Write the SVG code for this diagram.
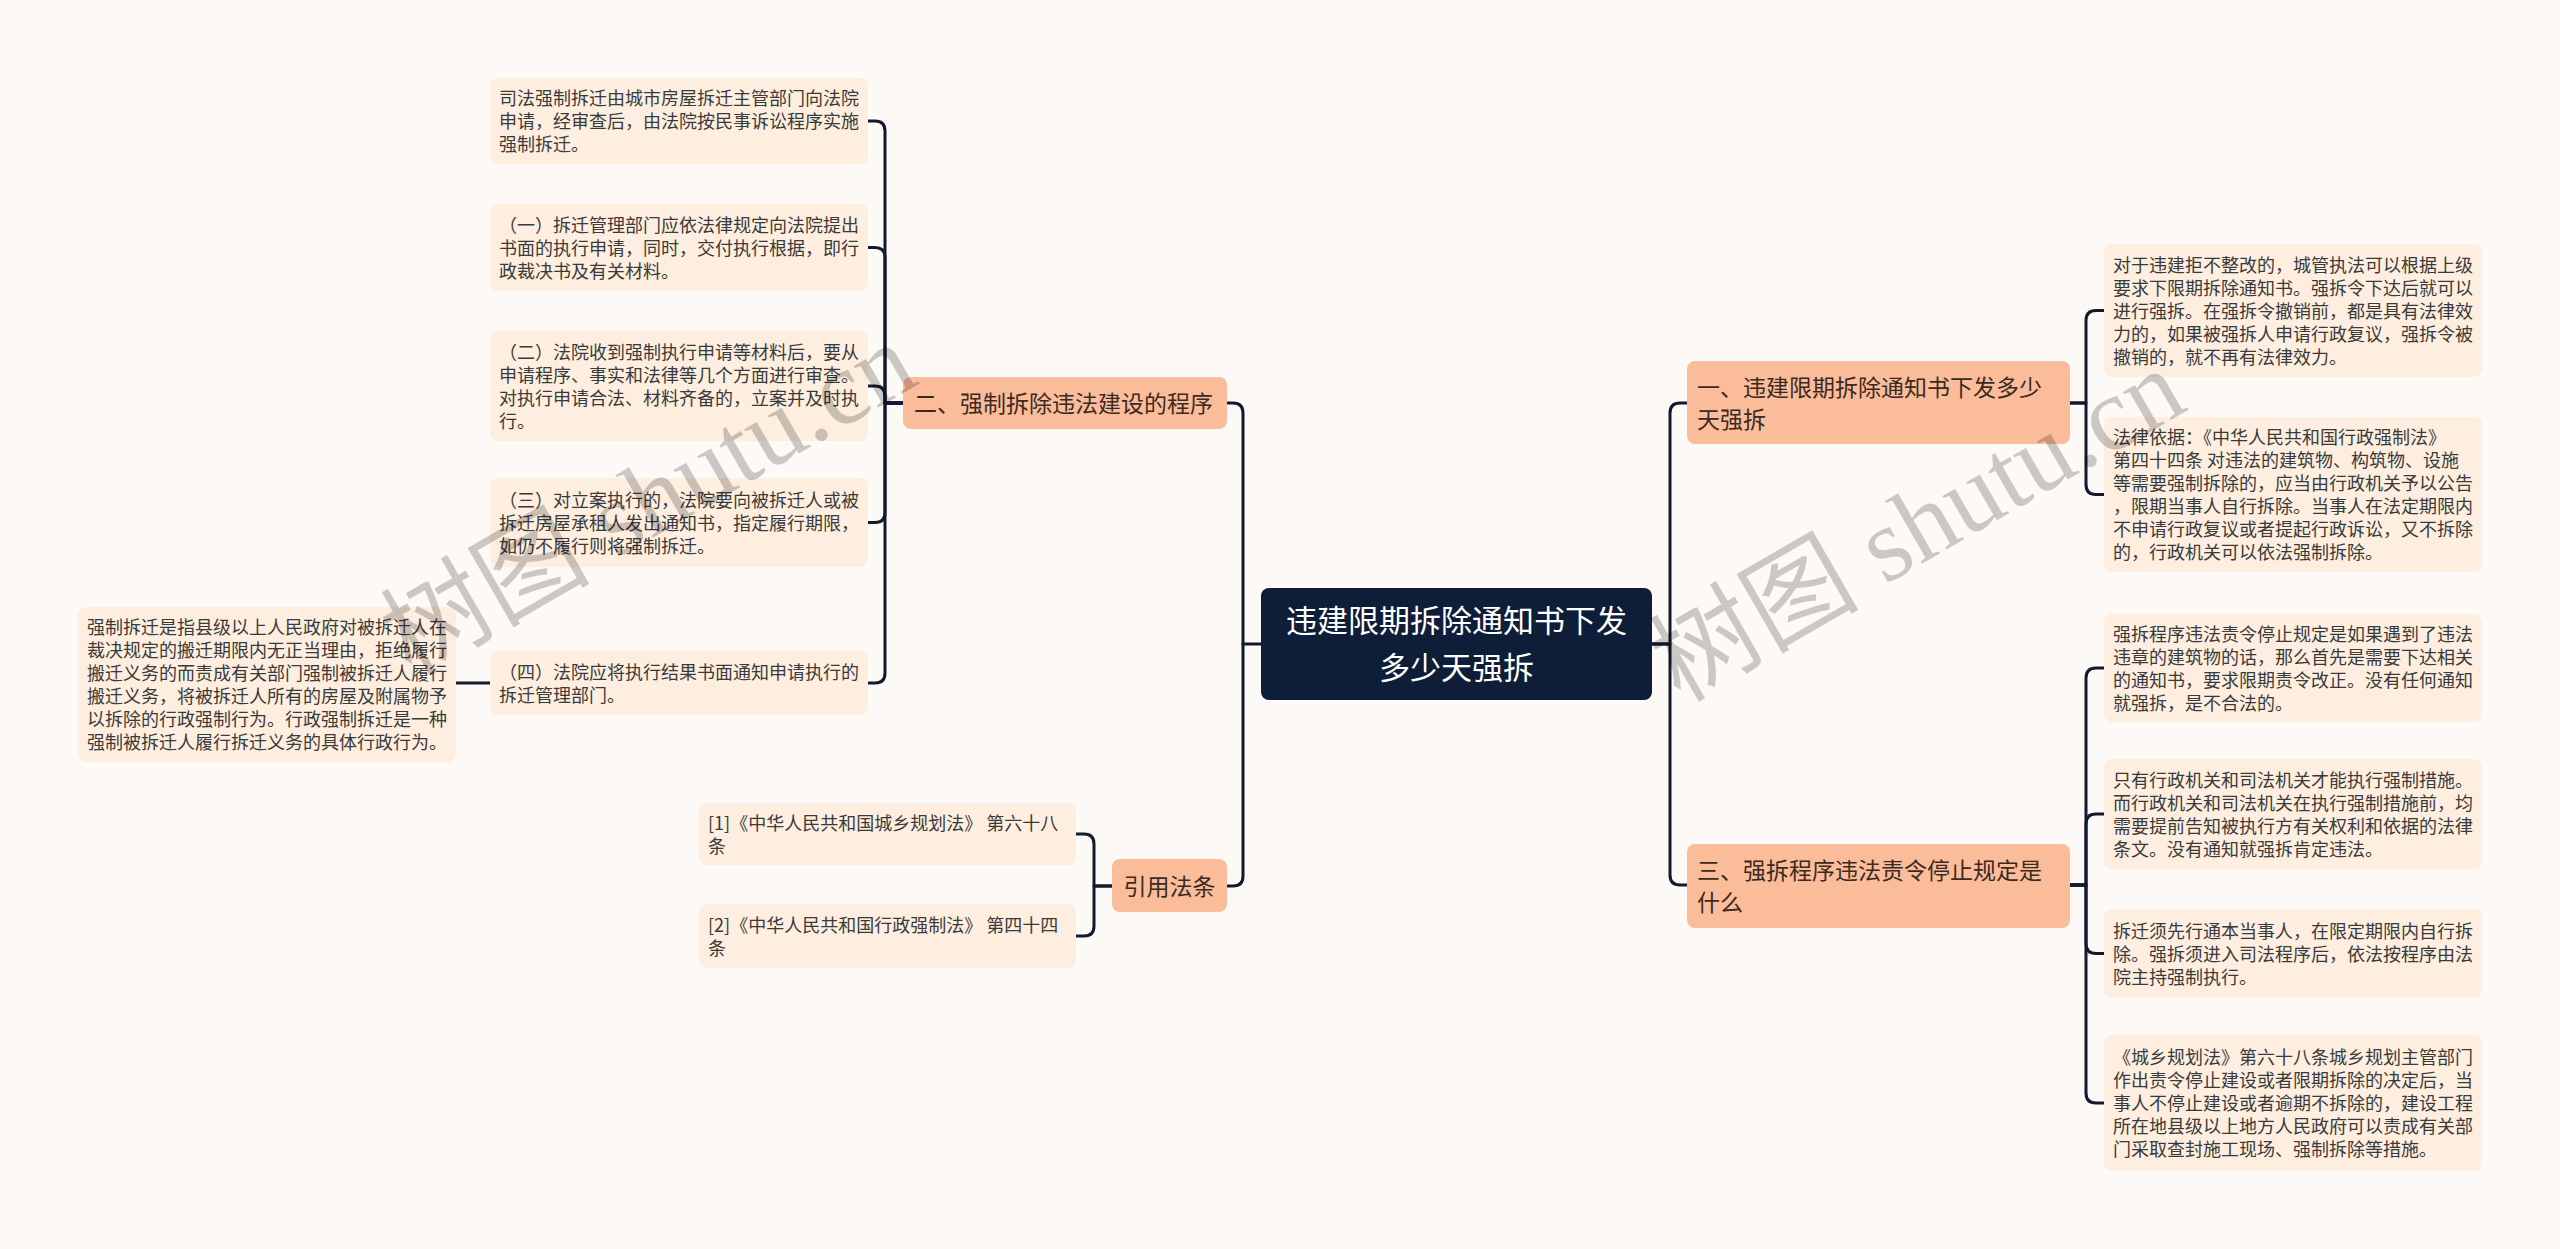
<svg xmlns="http://www.w3.org/2000/svg" width="2560" height="1249" viewBox="0 0 2560 1249">
<style>
.bg{fill:#FDF9F7}
.leaf{fill:#FDEEDF}
.br{fill:#FBBC9A}
.root{fill:#0E1E38}
.lt{font-family:"Noto Sans CJK SC","Noto Sans",sans-serif;font-size:18px;fill:#3a3a3a}
.bt{font-family:"Noto Sans CJK SC","Noto Sans",sans-serif;font-size:23px;fill:#3b2a22}
.rt{font-family:"Noto Sans CJK SC","Noto Sans",sans-serif;font-size:31px;fill:#ffffff}
.c{fill:none;stroke:#111A2E;stroke-width:3;stroke-linecap:round;stroke-linejoin:round}
.wm{font-family:"Liberation Serif","Noto Sans CJK SC",serif;font-size:105px;fill:#000;fill-opacity:0.2}
</style>
<rect class="bg" x="0" y="0" width="2560" height="1249"/>

<g id="connectors">
<path class="c" d="M1261,644 H1243"/>
<path class="c" d="M1243,644 V413 Q1243,403 1233,403 H1227"/>
<path class="c" d="M1243,644 V876 Q1243,886 1233,886 H1227"/>
<path class="c" d="M1652,644 H1670 V413 Q1670,403 1680,403 H1687"/>
<path class="c" d="M1652,644 H1670 V875 Q1670,885 1680,885 H1687"/>
<path class="c" d="M903,403 H885 V131 Q885,121 875,121 H868"/>
<path class="c" d="M903,403 H885 V257.5 Q885,247.5 875,247.5 H868"/>
<path class="c" d="M903,403 H885 V396 Q885,386 875,386 H868"/>
<path class="c" d="M903,403 H885 V512.5 Q885,522.5 875,522.5 H868"/>
<path class="c" d="M903,403 H885 V673 Q885,683 875,683 H868"/>
<path class="c" d="M490,683 H456"/>
<path class="c" d="M1112,886 H1094 V844 Q1094,834 1084,834 H1076"/>
<path class="c" d="M1112,886 H1094 V926 Q1094,936 1084,936 H1076"/>
<path class="c" d="M2070,403 H2086 V320.5 Q2086,310.5 2096,310.5 H2104"/>
<path class="c" d="M2070,403 H2086 V484.5 Q2086,494.5 2096,494.5 H2104"/>
<path class="c" d="M2070,885 H2086 V678 Q2086,668 2096,668 H2104"/>
<path class="c" d="M2070,885 H2086 V824 Q2086,814 2096,814 H2104"/>
<path class="c" d="M2070,885 H2086 V943.5 Q2086,953.5 2096,953.5 H2104"/>
<path class="c" d="M2070,885 H2086 V1093 Q2086,1103 2096,1103 H2104"/>
</g>

<g id="root">
<rect class="root" x="1261" y="588" width="391" height="112" rx="8"/>
<text class="rt" x="1456.5" y="632" text-anchor="middle">违建限期拆除通知书下发</text>
<text class="rt" x="1456.5" y="679" text-anchor="middle">多少天强拆</text>
</g>

<g id="branch1">
<rect class="br" x="1687" y="361" width="383" height="83" rx="8"/>
<text class="bt" x="1697" y="395.5">一、违建限期拆除通知书下发多少</text>
<text class="bt" x="1697" y="427.5">天强拆</text>
</g>

<g id="branch3">
<rect class="br" x="1687" y="844" width="383" height="84" rx="8"/>
<text class="bt" x="1697" y="879">三、强拆程序违法责令停止规定是</text>
<text class="bt" x="1697" y="911">什么</text>
</g>

<g id="branch2">
<rect class="br" x="903" y="377" width="324" height="52" rx="8"/>
<text class="bt" x="914" y="411.5">二、强制拆除违法建设的程序</text>
</g>

<g id="branchRef">
<rect class="br" x="1112" y="859" width="115" height="53" rx="8"/>
<text class="bt" x="1169.5" y="894.5" text-anchor="middle">引用法条</text>
</g>

<g id="leafA">
<rect class="leaf" x="490" y="78" width="378" height="86" rx="8"/>
<text class="lt" x="499" y="105">司法强制拆迁由城市房屋拆迁主管部门向法院</text>
<text class="lt" x="499" y="128">申请，经审查后，由法院按民事诉讼程序实施</text>
<text class="lt" x="499" y="151">强制拆迁。</text>
</g>

<g id="leafB">
<rect class="leaf" x="490" y="204" width="378" height="87" rx="8"/>
<text class="lt" x="499" y="231.5">（一）拆迁管理部门应依法律规定向法院提出</text>
<text class="lt" x="499" y="254.5">书面的执行申请，同时，交付执行根据，即行</text>
<text class="lt" x="499" y="277.5">政裁决书及有关材料。</text>
</g>

<g id="leafC">
<rect class="leaf" x="490" y="331" width="378" height="110" rx="8"/>
<text class="lt" x="499" y="358.5">（二）法院收到强制执行申请等材料后，要从</text>
<text class="lt" x="499" y="381.5">申请程序、事实和法律等几个方面进行审查。</text>
<text class="lt" x="499" y="404.5">对执行申请合法、材料齐备的，立案并及时执</text>
<text class="lt" x="499" y="427.5">行。</text>
</g>

<g id="leafD">
<rect class="leaf" x="490" y="478" width="378" height="89" rx="8"/>
<text class="lt" x="499" y="506.5">（三）对立案执行的，法院要向被拆迁人或被</text>
<text class="lt" x="499" y="529.5">拆迁房屋承租人发出通知书，指定履行期限，</text>
<text class="lt" x="499" y="552.5">如仍不履行则将强制拆迁。</text>
</g>

<g id="leafE">
<rect class="leaf" x="490" y="651" width="378" height="64" rx="8"/>
<text class="lt" x="499" y="678.5">（四）法院应将执行结果书面通知申请执行的</text>
<text class="lt" x="499" y="701.5">拆迁管理部门。</text>
</g>

<g id="leafFar">
<rect class="leaf" x="78" y="607" width="378" height="155" rx="8"/>
<text class="lt" x="87" y="634">强制拆迁是指县级以上人民政府对被拆迁人在</text>
<text class="lt" x="87" y="657">裁决规定的搬迁期限内无正当理由，拒绝履行</text>
<text class="lt" x="87" y="680">搬迁义务的而责成有关部门强制被拆迁人履行</text>
<text class="lt" x="87" y="703">搬迁义务，将被拆迁人所有的房屋及附属物予</text>
<text class="lt" x="87" y="726">以拆除的行政强制行为。行政强制拆迁是一种</text>
<text class="lt" x="87" y="749">强制被拆迁人履行拆迁义务的具体行政行为。</text>
</g>

<g id="ref1">
<rect class="leaf" x="699" y="803" width="377" height="62" rx="8"/>
<text class="lt" x="708" y="829.5">[1]《中华人民共和国城乡规划法》 第六十八</text>
<text class="lt" x="708" y="852.5">条</text>
</g>

<g id="ref2">
<rect class="leaf" x="699" y="904" width="377" height="64" rx="8"/>
<text class="lt" x="708" y="931.5">[2]《中华人民共和国行政强制法》 第四十四</text>
<text class="lt" x="708" y="954.5">条</text>
</g>

<g id="leafR1">
<rect class="leaf" x="2104" y="244" width="378" height="133" rx="8"/>
<text class="lt" x="2113" y="271.5">对于违建拒不整改的，城管执法可以根据上级</text>
<text class="lt" x="2113" y="294.5">要求下限期拆除通知书。强拆令下达后就可以</text>
<text class="lt" x="2113" y="317.5">进行强拆。在强拆令撤销前，都是具有法律效</text>
<text class="lt" x="2113" y="340.5">力的，如果被强拆人申请行政复议，强拆令被</text>
<text class="lt" x="2113" y="363.5">撤销的，就不再有法律效力。</text>
</g>

<g id="leafR2">
<rect class="leaf" x="2104" y="417" width="378" height="155" rx="8"/>
<text class="lt" x="2113" y="444">法律依据：《中华人民共和国行政强制法》</text>
<text class="lt" x="2113" y="467">第四十四条 对违法的建筑物、构筑物、设施</text>
<text class="lt" x="2113" y="490">等需要强制拆除的，应当由行政机关予以公告</text>
<text class="lt" x="2113" y="513">，限期当事人自行拆除。当事人在法定期限内</text>
<text class="lt" x="2113" y="536">不申请行政复议或者提起行政诉讼，又不拆除</text>
<text class="lt" x="2113" y="559">的，行政机关可以依法强制拆除。</text>
</g>

<g id="leafL1">
<rect class="leaf" x="2104" y="614" width="378" height="108" rx="8"/>
<text class="lt" x="2113" y="640.5">强拆程序违法责令停止规定是如果遇到了违法</text>
<text class="lt" x="2113" y="663.5">违章的建筑物的话，那么首先是需要下达相关</text>
<text class="lt" x="2113" y="686.5">的通知书，要求限期责令改正。没有任何通知</text>
<text class="lt" x="2113" y="709.5">就强拆，是不合法的。</text>
</g>

<g id="leafL2">
<rect class="leaf" x="2104" y="759" width="378" height="110" rx="8"/>
<text class="lt" x="2113" y="786.5">只有行政机关和司法机关才能执行强制措施。</text>
<text class="lt" x="2113" y="809.5">而行政机关和司法机关在执行强制措施前，均</text>
<text class="lt" x="2113" y="832.5">需要提前告知被执行方有关权利和依据的法律</text>
<text class="lt" x="2113" y="855.5">条文。没有通知就强拆肯定违法。</text>
</g>

<g id="leafL3">
<rect class="leaf" x="2104" y="909" width="378" height="89" rx="8"/>
<text class="lt" x="2113" y="937.5">拆迁须先行通本当事人，在限定期限内自行拆</text>
<text class="lt" x="2113" y="960.5">除。强拆须进入司法程序后，依法按程序由法</text>
<text class="lt" x="2113" y="983.5">院主持强制执行。</text>
</g>

<g id="leafL4">
<rect class="leaf" x="2104" y="1035" width="378" height="136" rx="8"/>
<text class="lt" x="2113" y="1064">《城乡规划法》第六十八条城乡规划主管部门</text>
<text class="lt" x="2113" y="1087">作出责令停止建设或者限期拆除的决定后，当</text>
<text class="lt" x="2113" y="1110">事人不停止建设或者逾期不拆除的，建设工程</text>
<text class="lt" x="2113" y="1133">所在地县级以上地方人民政府可以责成有关部</text>
<text class="lt" x="2113" y="1156">门采取查封施工现场、强制拆除等措施。</text>
</g>

<g id="watermarks">
<text class="wm" text-anchor="middle" transform="translate(666,530) rotate(-30)">树图 shutu.cn</text>
<text class="wm" text-anchor="middle" transform="translate(1935,556) rotate(-30)">树图 shutu.cn</text>
</g>
</svg>
